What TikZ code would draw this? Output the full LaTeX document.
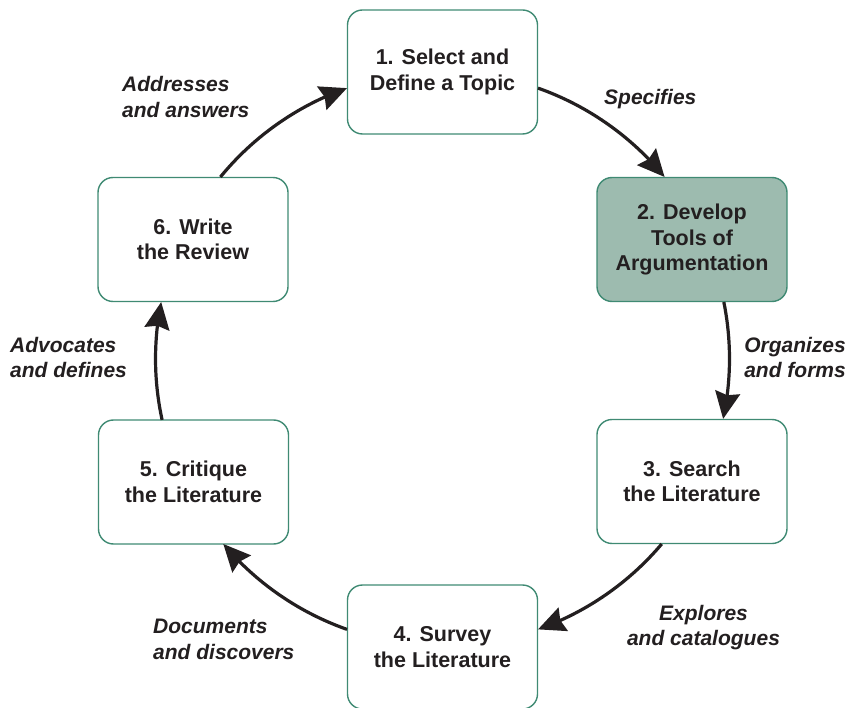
\documentclass[tikz,border=0pt]{standalone}
\usepackage{fontspec}
\setmainfont{Liberation Sans}
\usetikzlibrary{arrows.meta,bending,calc}
\definecolor{boxline}{HTML}{3F8A73}
\definecolor{boxfill}{HTML}{9DBBAF}
\definecolor{ink}{HTML}{231F20}
\begin{document}
\begin{tikzpicture}[x=1pt,y=1pt,
  stepbox/.style={draw=boxline, line width=1.4pt, rounded corners=15pt,
    minimum width=190pt, minimum height=124pt, align=center, text=ink,
    font=\fontsize{21.5}{25.5}\selectfont\bfseries, inner sep=0pt},
  lbl/.style={text=ink, font=\fontsize{21}{25.5}\selectfont\bfseries\itshape, inner sep=0pt},
  arr/.style={draw=ink, line width=3.2pt, -{Stealth[length=27pt,width=25pt,inset=3pt,flex]}}]
\useasboundingbox (0,0) rectangle (848,-708);
\coordinate (O) at (442.5,-358.75);
\node[stepbox] (b1) at (442.5,-72) {1. Select and\\Define a Topic};
\node[stepbox, fill=boxfill] (b2) at (692,-239.5) {2. Develop\\Tools of\\Argumentation};
\node[stepbox] (b3) at (692,-481.5) {3. Search\\the Literature};
\node[stepbox] (b4) at (442.5,-647) {4. Survey\\the Literature};
\node[stepbox] (b5) at (193.5,-482) {5. Critique\\the Literature};
\node[stepbox] (b6) at (193,-239.5) {6. Write\\the Review};
% connectors along a circle around O
\draw[arr] ($(O)+(70.56:287)$) arc[start angle=70.56, end angle=39.3, radius=287];
\draw[arr] ($(O)+(11.4:287)$) arc[start angle=11.4, end angle=-12.1, radius=287];
\draw[arr] ($(O)+(-40.2:287)$) arc[start angle=-40.2, end angle=-70.56, radius=287];
\draw[arr] ($(O)+(-109.44:287)$) arc[start angle=-109.44, end angle=-139.8, radius=287];
\draw[arr] ($(O)+(-167.7:287)$) arc[start angle=-167.7, end angle=-191.4, radius=287];
\draw[arr] ($(O)+(140.7:287)$) arc[start angle=140.7, end angle=109.44, radius=287];
% labels
\node[lbl, anchor=west, align=left] (l61) at (122,-97) {Addresses\\and answers};
\node[lbl, anchor=west] (l12) at (604,-99) {Specifies};
\node[lbl, anchor=east, align=right] (l23) at (846,-357.5) {Organizes\\and forms};
\node[lbl, anchor=center, align=center] (l34) at (703.5,-627.5) {Explores\\and catalogues};
\node[lbl, anchor=west, align=left] (l45) at (153,-639.5) {Documents\\and discovers};
\node[lbl, anchor=west, align=left] (l56) at (10,-357.5) {Advocates\\and defines};
\end{tikzpicture}
\end{document}
